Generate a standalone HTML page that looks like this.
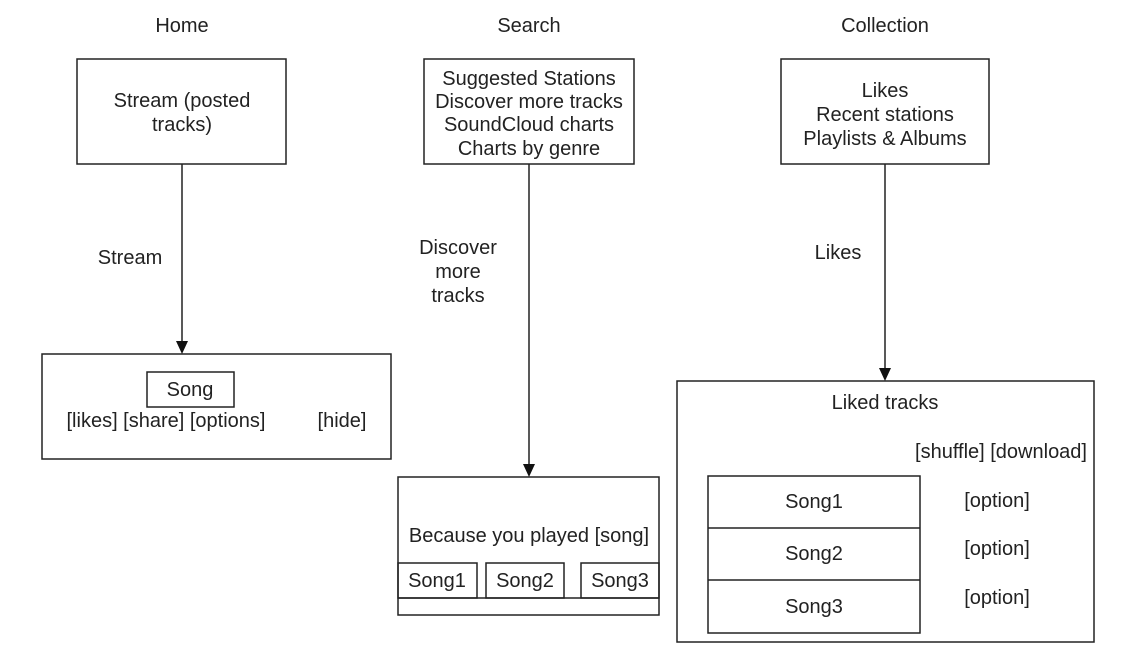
<!DOCTYPE html>
<html><head><style>html,body{margin:0;padding:0;background:#fff}svg{display:block}text{font-family:"Liberation Sans",Arial,sans-serif;font-size:20px;fill:#222}</style></head>
<body>
<svg width="1137" height="659" viewBox="0 0 1137 659" xmlns="http://www.w3.org/2000/svg">
<g fill="none" stroke="#222" stroke-width="1.5">
<rect x="77" y="59" width="209" height="105"/>
<rect x="424" y="59" width="210" height="105"/>
<rect x="781" y="59" width="208" height="105"/>
<rect x="42" y="354" width="349" height="105"/>
<rect x="147" y="372" width="87" height="35"/>
<rect x="398" y="477" width="261" height="138"/>
<line x1="398" y1="598" x2="659" y2="598"/>
<rect x="398" y="563" width="79" height="35"/>
<rect x="486" y="563" width="78" height="35"/>
<rect x="581" y="563" width="78" height="35"/>
<rect x="677" y="381" width="417" height="261"/>
<rect x="708" y="476" width="212" height="157"/>
<line x1="708" y1="528" x2="920" y2="528"/>
<line x1="708" y1="580" x2="920" y2="580"/>
<line x1="182" y1="164" x2="182" y2="344"/>
<line x1="529" y1="164" x2="529" y2="467"/>
<line x1="885" y1="164" x2="885" y2="371"/>
</g>
<g fill="#111">
<polygon points="176,341 188,341 182,354"/>
<polygon points="523,464 535,464 529,477"/>
<polygon points="879,368 891,368 885,381"/>
</g>
<g text-anchor="middle">
<text x="182" y="32">Home</text>
<text x="529" y="32">Search</text>
<text x="885" y="32">Collection</text>
<text x="182" y="107">Stream (posted</text>
<text x="182" y="131">tracks)</text>
<text x="529" y="85">Suggested Stations</text>
<text x="529" y="108">Discover more tracks</text>
<text x="529" y="131">SoundCloud charts</text>
<text x="529" y="155">Charts by genre</text>
<text x="885" y="97">Likes</text>
<text x="885" y="121">Recent stations</text>
<text x="885" y="145">Playlists &amp; Albums</text>
<text x="130" y="264">Stream</text>
<text x="458" y="254">Discover</text>
<text x="458" y="278">more</text>
<text x="458" y="302">tracks</text>
<text x="838" y="259">Likes</text>
<text x="190" y="396">Song</text>
<text x="166" y="427">[likes] [share] [options]</text>
<text x="342" y="427">[hide]</text>
<text x="529" y="542">Because you played [song]</text>
<text x="437" y="587">Song1</text>
<text x="525" y="587">Song2</text>
<text x="620" y="587">Song3</text>
<text x="885" y="409">Liked tracks</text>
<text x="814" y="508">Song1</text>
<text x="814" y="560">Song2</text>
<text x="814" y="613">Song3</text>
<text x="997" y="507">[option]</text>
<text x="997" y="555">[option]</text>
<text x="997" y="604">[option]</text>
</g>
<text x="1087" y="458" text-anchor="end">[shuffle] [download]</text>
</svg>
</body></html>
